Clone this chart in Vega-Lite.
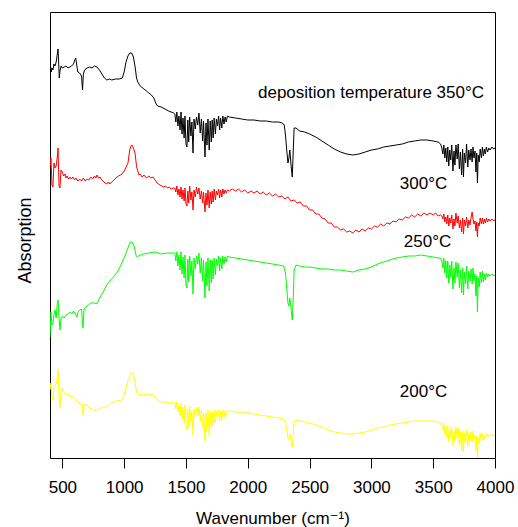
{
  "$schema": "https://vega.github.io/schema/vega-lite/v6.json",
  "width": 445,
  "height": 446,
  "autosize": "none",
  "padding": {"left": 50, "top": 12, "right": 23, "bottom": 69},
  "background": "white",
  "config": {"view": {"stroke": "black", "strokeWidth": 1}, "font": "Liberation Sans, Arial, DejaVu Sans"},
  "datasets": {
    "spectra": [
      {"s":"350","w":400,"a":381},{"s":"350","w":404,"a":392},{"s":"350","w":410,"a":386},{"s":"350","w":416,"a":390},{"s":"350","w":424,"a":388},{"s":"350","w":432,"a":394},{"s":"350","w":440,"a":392},{"s":"350","w":450,"a":396},{"s":"350","w":458,"a":403},{"s":"350","w":465,"a":409},{"s":"350","w":470,"a":396},{"s":"350","w":475,"a":380},{"s":"350","w":482,"a":388},{"s":"350","w":490,"a":392},{"s":"350","w":500,"a":390},{"s":"350","w":515,"a":391},{"s":"350","w":530,"a":392},{"s":"350","w":545,"a":390},{"s":"350","w":560,"a":391},{"s":"350","w":575,"a":392},{"s":"350","w":590,"a":394},{"s":"350","w":600,"a":398},{"s":"350","w":608,"a":400},{"s":"350","w":615,"a":394},{"s":"350","w":625,"a":386},{"s":"350","w":640,"a":385},{"s":"350","w":655,"a":382},{"s":"350","w":663,"a":368},{"s":"350","w":670,"a":384},{"s":"350","w":680,"a":388},{"s":"350","w":700,"a":390},{"s":"350","w":720,"a":391},{"s":"350","w":740,"a":390},{"s":"350","w":760,"a":392},{"s":"350","w":780,"a":391},{"s":"350","w":800,"a":388},{"s":"350","w":820,"a":384},{"s":"350","w":840,"a":380},{"s":"350","w":860,"a":378},{"s":"350","w":880,"a":379},{"s":"350","w":900,"a":378},{"s":"350","w":930,"a":379},{"s":"350","w":960,"a":379},{"s":"350","w":985,"a":380},{"s":"350","w":1000,"a":386},{"s":"350","w":1015,"a":396},{"s":"350","w":1030,"a":402},{"s":"350","w":1045,"a":405},{"s":"350","w":1060,"a":405},{"s":"350","w":1075,"a":401},{"s":"350","w":1090,"a":390},{"s":"350","w":1100,"a":380},{"s":"350","w":1110,"a":376},{"s":"350","w":1130,"a":372},{"s":"350","w":1160,"a":369},{"s":"350","w":1190,"a":366},{"s":"350","w":1220,"a":363},{"s":"350","w":1240,"a":360},{"s":"350","w":1255,"a":355},{"s":"350","w":1270,"a":352},{"s":"350","w":1300,"a":351},{"s":"350","w":1330,"a":349},{"s":"350","w":1360,"a":347},{"s":"350","w":1380,"a":346},{"s":"350","w":1400,"a":345},
      {"s":"350","w":1410,"a":344},{"s":"350","w":1418,"a":336},{"s":"350","w":1426,"a":346},{"s":"350","w":1435,"a":332},{"s":"350","w":1443,"a":342},{"s":"350","w":1452,"a":328},{"s":"350","w":1460,"a":346},{"s":"350","w":1468,"a":324},{"s":"350","w":1476,"a":340},{"s":"350","w":1485,"a":320},{"s":"350","w":1492,"a":342},{"s":"350","w":1500,"a":314},{"s":"350","w":1508,"a":311},{"s":"350","w":1515,"a":338},{"s":"350","w":1522,"a":316},{"s":"350","w":1530,"a":341},{"s":"350","w":1540,"a":322},{"s":"350","w":1548,"a":336},{"s":"350","w":1557,"a":305},{"s":"350","w":1565,"a":339},{"s":"350","w":1575,"a":329},{"s":"350","w":1585,"a":341},{"s":"350","w":1595,"a":333},{"s":"350","w":1605,"a":345},{"s":"350","w":1615,"a":325},{"s":"350","w":1625,"a":339},{"s":"350","w":1635,"a":317},{"s":"350","w":1642,"a":337},{"s":"350","w":1654,"a":301},{"s":"350","w":1662,"a":335},{"s":"350","w":1670,"a":313},{"s":"350","w":1678,"a":339},{"s":"350","w":1688,"a":308},{"s":"350","w":1696,"a":337},{"s":"350","w":1705,"a":316},{"s":"350","w":1712,"a":338},{"s":"350","w":1720,"a":320},{"s":"350","w":1728,"a":340},{"s":"350","w":1738,"a":324},{"s":"350","w":1746,"a":339},{"s":"350","w":1755,"a":332},{"s":"350","w":1764,"a":342},{"s":"350","w":1772,"a":328},{"s":"350","w":1780,"a":340},{"s":"350","w":1790,"a":330},{"s":"350","w":1798,"a":342},{"s":"350","w":1808,"a":334},{"s":"350","w":1816,"a":341},{"s":"350","w":1826,"a":336},{"s":"350","w":1835,"a":342},{"s":"350","w":1850,"a":341},
      {"s":"350","w":1900,"a":340},{"s":"350","w":1950,"a":339},{"s":"350","w":2000,"a":338},{"s":"350","w":2050,"a":338},{"s":"350","w":2100,"a":337},{"s":"350","w":2150,"a":337},{"s":"350","w":2200,"a":336},{"s":"350","w":2250,"a":336},{"s":"350","w":2280,"a":335},{"s":"350","w":2295,"a":333},{"s":"350","w":2305,"a":323},{"s":"350","w":2315,"a":308},{"s":"350","w":2325,"a":295},{"s":"350","w":2333,"a":300},{"s":"350","w":2340,"a":308},{"s":"350","w":2350,"a":293},{"s":"350","w":2360,"a":281},{"s":"350","w":2368,"a":308},{"s":"350","w":2375,"a":330},{"s":"350","w":2390,"a":330},{"s":"350","w":2420,"a":327},{"s":"350","w":2460,"a":326},{"s":"350","w":2500,"a":324},{"s":"350","w":2550,"a":321},{"s":"350","w":2600,"a":317},{"s":"350","w":2650,"a":313},{"s":"350","w":2700,"a":309},{"s":"350","w":2750,"a":306},{"s":"350","w":2800,"a":304},{"s":"350","w":2850,"a":303},{"s":"350","w":2900,"a":304},{"s":"350","w":2950,"a":306},{"s":"350","w":3000,"a":308},{"s":"350","w":3050,"a":309},{"s":"350","w":3100,"a":311},{"s":"350","w":3150,"a":312},{"s":"350","w":3200,"a":313},{"s":"350","w":3250,"a":314},{"s":"350","w":3300,"a":316},{"s":"350","w":3350,"a":317},{"s":"350","w":3400,"a":318},{"s":"350","w":3450,"a":318},{"s":"350","w":3500,"a":317},{"s":"350","w":3540,"a":316},{"s":"350","w":3560,"a":314},
      {"s":"350","w":3570,"a":310},{"s":"350","w":3578,"a":304},{"s":"350","w":3586,"a":313},{"s":"350","w":3594,"a":300},{"s":"350","w":3602,"a":310},{"s":"350","w":3610,"a":296},{"s":"350","w":3618,"a":311},{"s":"350","w":3626,"a":292},{"s":"350","w":3634,"a":308},{"s":"350","w":3642,"a":298},{"s":"350","w":3650,"a":313},{"s":"350","w":3660,"a":287},{"s":"350","w":3668,"a":307},{"s":"350","w":3676,"a":293},{"s":"350","w":3684,"a":313},{"s":"350","w":3694,"a":299},{"s":"350","w":3702,"a":314},{"s":"350","w":3712,"a":289},{"s":"350","w":3720,"a":306},{"s":"350","w":3730,"a":283},{"s":"350","w":3738,"a":309},{"s":"350","w":3745,"a":281},{"s":"350","w":3752,"a":305},{"s":"350","w":3762,"a":295},{"s":"350","w":3770,"a":314},{"s":"350","w":3780,"a":291},{"s":"350","w":3788,"a":308},{"s":"350","w":3798,"a":298},{"s":"350","w":3806,"a":309},{"s":"350","w":3815,"a":296},{"s":"350","w":3822,"a":311},{"s":"350","w":3830,"a":300},{"s":"350","w":3838,"a":307},{"s":"350","w":3846,"a":286},{"s":"350","w":3852,"a":305},{"s":"350","w":3858,"a":275},{"s":"350","w":3864,"a":303},{"s":"350","w":3872,"a":296},{"s":"350","w":3880,"a":309},{"s":"350","w":3890,"a":300},{"s":"350","w":3898,"a":311},{"s":"350","w":3906,"a":302},{"s":"350","w":3914,"a":309},{"s":"350","w":3922,"a":304},{"s":"350","w":3930,"a":311},{"s":"350","w":3940,"a":306},{"s":"350","w":3950,"a":310},{"s":"350","w":3960,"a":308},{"s":"350","w":3975,"a":311},{"s":"350","w":3990,"a":309},{"s":"350","w":4000,"a":310},

      {"s":"300","w":400,"a":291},{"s":"300","w":408,"a":300},{"s":"300","w":416,"a":273},{"s":"300","w":424,"a":271},{"s":"300","w":432,"a":295},{"s":"300","w":440,"a":290},{"s":"300","w":450,"a":292},{"s":"300","w":458,"a":300},{"s":"300","w":465,"a":310},{"s":"300","w":473,"a":272},{"s":"300","w":481,"a":270},{"s":"300","w":489,"a":288},{"s":"300","w":500,"a":286},{"s":"300","w":510,"a":282},{"s":"300","w":521,"a":284},{"s":"300","w":530,"a":280},{"s":"300","w":538,"a":282},{"s":"300","w":550,"a":279},{"s":"300","w":560,"a":281},{"s":"300","w":573,"a":279},{"s":"300","w":586,"a":281},{"s":"300","w":598,"a":278},{"s":"300","w":610,"a":280},{"s":"300","w":625,"a":277},{"s":"300","w":640,"a":279},{"s":"300","w":655,"a":277},{"s":"300","w":670,"a":280},{"s":"300","w":685,"a":277},{"s":"300","w":700,"a":279},{"s":"300","w":715,"a":278},{"s":"300","w":730,"a":281},{"s":"300","w":745,"a":279},{"s":"300","w":760,"a":282},{"s":"300","w":770,"a":280},{"s":"300","w":780,"a":283},{"s":"300","w":792,"a":280},{"s":"300","w":805,"a":281},{"s":"300","w":818,"a":278},{"s":"300","w":830,"a":277},{"s":"300","w":845,"a":275},{"s":"300","w":860,"a":274},{"s":"300","w":872,"a":276},{"s":"300","w":885,"a":274},{"s":"300","w":898,"a":276},{"s":"300","w":910,"a":277},{"s":"300","w":925,"a":279},{"s":"300","w":942,"a":281},{"s":"300","w":955,"a":282},{"s":"300","w":970,"a":283},{"s":"300","w":983,"a":284},{"s":"300","w":1000,"a":287},{"s":"300","w":1020,"a":292},{"s":"300","w":1031,"a":295},{"s":"300","w":1045,"a":308},{"s":"300","w":1055,"a":312},{"s":"300","w":1063,"a":313},{"s":"300","w":1075,"a":310},{"s":"300","w":1088,"a":305},{"s":"300","w":1100,"a":292},{"s":"300","w":1112,"a":286},{"s":"300","w":1120,"a":283},{"s":"300","w":1128,"a":284},{"s":"300","w":1145,"a":281},{"s":"300","w":1160,"a":283},{"s":"300","w":1180,"a":280},{"s":"300","w":1200,"a":282},{"s":"300","w":1215,"a":280},{"s":"300","w":1233,"a":281},{"s":"300","w":1250,"a":278},{"s":"300","w":1266,"a":275},{"s":"300","w":1278,"a":274},{"s":"300","w":1290,"a":273},{"s":"300","w":1305,"a":272},{"s":"300","w":1320,"a":271},{"s":"300","w":1335,"a":272},{"s":"300","w":1350,"a":270},{"s":"300","w":1365,"a":271},{"s":"300","w":1380,"a":269},{"s":"300","w":1400,"a":270},
      {"s":"300","w":1410,"a":270},{"s":"300","w":1418,"a":266},{"s":"300","w":1426,"a":272},{"s":"300","w":1435,"a":263},{"s":"300","w":1443,"a":269},{"s":"300","w":1452,"a":261},{"s":"300","w":1460,"a":271},{"s":"300","w":1468,"a":259},{"s":"300","w":1476,"a":268},{"s":"300","w":1485,"a":257},{"s":"300","w":1492,"a":270},{"s":"300","w":1500,"a":254},{"s":"300","w":1508,"a":252},{"s":"300","w":1515,"a":267},{"s":"300","w":1522,"a":255},{"s":"300","w":1530,"a":272},{"s":"300","w":1540,"a":258},{"s":"300","w":1548,"a":266},{"s":"300","w":1557,"a":248},{"s":"300","w":1565,"a":268},{"s":"300","w":1575,"a":261},{"s":"300","w":1585,"a":271},{"s":"300","w":1595,"a":264},{"s":"300","w":1605,"a":270},{"s":"300","w":1615,"a":259},{"s":"300","w":1625,"a":267},{"s":"300","w":1635,"a":255},{"s":"300","w":1642,"a":266},{"s":"300","w":1654,"a":246},{"s":"300","w":1662,"a":265},{"s":"300","w":1670,"a":253},{"s":"300","w":1678,"a":268},{"s":"300","w":1688,"a":250},{"s":"300","w":1696,"a":266},{"s":"300","w":1705,"a":254},{"s":"300","w":1712,"a":267},{"s":"300","w":1720,"a":256},{"s":"300","w":1728,"a":269},{"s":"300","w":1738,"a":258},{"s":"300","w":1746,"a":267},{"s":"300","w":1755,"a":263},{"s":"300","w":1764,"a":269},{"s":"300","w":1772,"a":260},{"s":"300","w":1780,"a":268},{"s":"300","w":1790,"a":261},{"s":"300","w":1798,"a":269},{"s":"300","w":1808,"a":264},{"s":"300","w":1816,"a":268},{"s":"300","w":1826,"a":265},{"s":"300","w":1835,"a":268},{"s":"300","w":1850,"a":267},
      {"s":"300","w":1875,"a":269},{"s":"300","w":1900,"a":267},{"s":"300","w":1925,"a":269},{"s":"300","w":1950,"a":266},{"s":"300","w":1975,"a":268},{"s":"300","w":2000,"a":265},{"s":"300","w":2025,"a":267},{"s":"300","w":2050,"a":265},{"s":"300","w":2075,"a":267},{"s":"300","w":2100,"a":264},{"s":"300","w":2125,"a":266},{"s":"300","w":2150,"a":263},{"s":"300","w":2175,"a":265},{"s":"300","w":2200,"a":262},{"s":"300","w":2225,"a":264},{"s":"300","w":2250,"a":261},{"s":"300","w":2275,"a":262},{"s":"300","w":2300,"a":259},{"s":"300","w":2325,"a":261},{"s":"300","w":2350,"a":257},{"s":"300","w":2375,"a":258},{"s":"300","w":2400,"a":255},{"s":"300","w":2425,"a":256},{"s":"300","w":2450,"a":252},{"s":"300","w":2475,"a":252},{"s":"300","w":2500,"a":248},{"s":"300","w":2525,"a":248},{"s":"300","w":2550,"a":244},{"s":"300","w":2575,"a":244},{"s":"300","w":2600,"a":240},{"s":"300","w":2625,"a":239},{"s":"300","w":2650,"a":235},{"s":"300","w":2675,"a":235},{"s":"300","w":2700,"a":231},{"s":"300","w":2725,"a":231},{"s":"300","w":2750,"a":228},{"s":"300","w":2775,"a":229},{"s":"300","w":2800,"a":226},{"s":"300","w":2825,"a":227},{"s":"300","w":2850,"a":225},{"s":"300","w":2875,"a":228},{"s":"300","w":2900,"a":226},{"s":"300","w":2925,"a":229},{"s":"300","w":2950,"a":227},{"s":"300","w":2975,"a":230},{"s":"300","w":3000,"a":229},{"s":"300","w":3025,"a":232},{"s":"300","w":3050,"a":231},{"s":"300","w":3075,"a":234},{"s":"300","w":3100,"a":232},{"s":"300","w":3125,"a":235},{"s":"300","w":3150,"a":234},{"s":"300","w":3175,"a":237},{"s":"300","w":3200,"a":236},{"s":"300","w":3225,"a":239},{"s":"300","w":3250,"a":238},{"s":"300","w":3275,"a":241},{"s":"300","w":3300,"a":240},{"s":"300","w":3325,"a":243},{"s":"300","w":3350,"a":241},{"s":"300","w":3375,"a":244},{"s":"300","w":3400,"a":242},{"s":"300","w":3425,"a":245},{"s":"300","w":3450,"a":243},{"s":"300","w":3475,"a":245},{"s":"300","w":3500,"a":243},{"s":"300","w":3520,"a":245},{"s":"300","w":3540,"a":242},{"s":"300","w":3560,"a":243},
      {"s":"300","w":3570,"a":242},{"s":"300","w":3578,"a":239},{"s":"300","w":3586,"a":244},{"s":"300","w":3594,"a":236},{"s":"300","w":3602,"a":241},{"s":"300","w":3610,"a":234},{"s":"300","w":3618,"a":243},{"s":"300","w":3626,"a":232},{"s":"300","w":3634,"a":240},{"s":"300","w":3642,"a":235},{"s":"300","w":3650,"a":243},{"s":"300","w":3660,"a":229},{"s":"300","w":3668,"a":239},{"s":"300","w":3676,"a":232},{"s":"300","w":3684,"a":245},{"s":"300","w":3694,"a":235},{"s":"300","w":3702,"a":242},{"s":"300","w":3712,"a":230},{"s":"300","w":3720,"a":238},{"s":"300","w":3730,"a":226},{"s":"300","w":3738,"a":240},{"s":"300","w":3745,"a":224},{"s":"300","w":3752,"a":238},{"s":"300","w":3762,"a":232},{"s":"300","w":3770,"a":241},{"s":"300","w":3780,"a":230},{"s":"300","w":3788,"a":238},{"s":"300","w":3798,"a":233},{"s":"300","w":3806,"a":240},{"s":"300","w":3815,"a":246},{"s":"300","w":3822,"a":239},{"s":"300","w":3830,"a":234},{"s":"300","w":3838,"a":237},{"s":"300","w":3846,"a":227},{"s":"300","w":3852,"a":236},{"s":"300","w":3858,"a":221},{"s":"300","w":3864,"a":235},{"s":"300","w":3872,"a":232},{"s":"300","w":3880,"a":240},{"s":"300","w":3890,"a":234},{"s":"300","w":3898,"a":240},{"s":"300","w":3906,"a":234},{"s":"300","w":3914,"a":239},{"s":"300","w":3922,"a":235},{"s":"300","w":3930,"a":240},{"s":"300","w":3940,"a":236},{"s":"300","w":3950,"a":239},{"s":"300","w":3960,"a":237},{"s":"300","w":3975,"a":239},{"s":"300","w":3990,"a":237},{"s":"300","w":4000,"a":238},

      {"s":"250","w":400,"a":121},{"s":"250","w":408,"a":146},{"s":"250","w":416,"a":133},{"s":"250","w":424,"a":135},{"s":"250","w":432,"a":143},{"s":"250","w":440,"a":148},{"s":"250","w":450,"a":140},{"s":"250","w":458,"a":153},{"s":"250","w":465,"a":158},{"s":"250","w":473,"a":140},{"s":"250","w":481,"a":128},{"s":"250","w":489,"a":140},{"s":"250","w":500,"a":142},{"s":"250","w":515,"a":140},{"s":"250","w":530,"a":143},{"s":"250","w":545,"a":144},{"s":"250","w":560,"a":146},{"s":"250","w":575,"a":144},{"s":"250","w":590,"a":147},{"s":"250","w":605,"a":144},{"s":"250","w":618,"a":141},{"s":"250","w":627,"a":146},{"s":"250","w":640,"a":148},{"s":"250","w":655,"a":149},{"s":"250","w":667,"a":130},{"s":"250","w":675,"a":149},{"s":"250","w":690,"a":151},{"s":"250","w":710,"a":153},{"s":"250","w":730,"a":155},{"s":"250","w":760,"a":155},{"s":"250","w":780,"a":154},{"s":"250","w":800,"a":160},{"s":"250","w":830,"a":166},{"s":"250","w":860,"a":173},{"s":"250","w":890,"a":178},{"s":"250","w":920,"a":182},{"s":"250","w":950,"a":187},{"s":"250","w":985,"a":196},{"s":"250","w":1010,"a":203},{"s":"250","w":1030,"a":210},{"s":"250","w":1050,"a":216},{"s":"250","w":1065,"a":216},{"s":"250","w":1080,"a":212},{"s":"250","w":1095,"a":203},{"s":"250","w":1105,"a":201},{"s":"250","w":1130,"a":203},{"s":"250","w":1160,"a":204},{"s":"250","w":1200,"a":205},{"s":"250","w":1250,"a":206},{"s":"250","w":1300,"a":204},{"s":"250","w":1350,"a":205},{"s":"250","w":1400,"a":205},
      {"s":"250","w":1410,"a":205},{"s":"250","w":1418,"a":197},{"s":"250","w":1426,"a":206},{"s":"250","w":1435,"a":192},{"s":"250","w":1443,"a":203},{"s":"250","w":1452,"a":188},{"s":"250","w":1460,"a":206},{"s":"250","w":1468,"a":184},{"s":"250","w":1476,"a":201},{"s":"250","w":1485,"a":180},{"s":"250","w":1492,"a":203},{"s":"250","w":1500,"a":173},{"s":"250","w":1508,"a":170},{"s":"250","w":1515,"a":199},{"s":"250","w":1522,"a":176},{"s":"250","w":1530,"a":202},{"s":"250","w":1540,"a":182},{"s":"250","w":1548,"a":197},{"s":"250","w":1557,"a":164},{"s":"250","w":1565,"a":200},{"s":"250","w":1575,"a":189},{"s":"250","w":1585,"a":202},{"s":"250","w":1595,"a":194},{"s":"250","w":1605,"a":205},{"s":"250","w":1615,"a":185},{"s":"250","w":1625,"a":200},{"s":"250","w":1635,"a":177},{"s":"250","w":1642,"a":198},{"s":"250","w":1654,"a":160},{"s":"250","w":1662,"a":196},{"s":"250","w":1670,"a":172},{"s":"250","w":1678,"a":200},{"s":"250","w":1688,"a":167},{"s":"250","w":1696,"a":198},{"s":"250","w":1705,"a":175},{"s":"250","w":1712,"a":198},{"s":"250","w":1720,"a":179},{"s":"250","w":1728,"a":200},{"s":"250","w":1738,"a":183},{"s":"250","w":1746,"a":199},{"s":"250","w":1755,"a":192},{"s":"250","w":1764,"a":202},{"s":"250","w":1772,"a":187},{"s":"250","w":1780,"a":200},{"s":"250","w":1790,"a":189},{"s":"250","w":1798,"a":202},{"s":"250","w":1808,"a":194},{"s":"250","w":1816,"a":201},{"s":"250","w":1826,"a":196},{"s":"250","w":1835,"a":202},{"s":"250","w":1850,"a":201},
      {"s":"250","w":1900,"a":200},{"s":"250","w":1950,"a":199},{"s":"250","w":2000,"a":198},{"s":"250","w":2050,"a":197},{"s":"250","w":2100,"a":196},{"s":"250","w":2150,"a":195},{"s":"250","w":2200,"a":194},{"s":"250","w":2250,"a":193},{"s":"250","w":2290,"a":192},{"s":"250","w":2305,"a":185},{"s":"250","w":2315,"a":170},{"s":"250","w":2325,"a":155},{"s":"250","w":2333,"a":152},{"s":"250","w":2340,"a":160},{"s":"250","w":2350,"a":150},{"s":"250","w":2360,"a":138},{"s":"250","w":2368,"a":160},{"s":"250","w":2375,"a":188},{"s":"250","w":2390,"a":193},{"s":"250","w":2420,"a":192},{"s":"250","w":2460,"a":191},{"s":"250","w":2500,"a":191},{"s":"250","w":2550,"a":190},{"s":"250","w":2600,"a":189},{"s":"250","w":2650,"a":189},{"s":"250","w":2700,"a":188},{"s":"250","w":2750,"a":188},{"s":"250","w":2800,"a":187},{"s":"250","w":2850,"a":186},{"s":"250","w":2900,"a":188},{"s":"250","w":2950,"a":189},{"s":"250","w":3000,"a":191},{"s":"250","w":3050,"a":194},{"s":"250","w":3100,"a":196},{"s":"250","w":3150,"a":198},{"s":"250","w":3200,"a":200},{"s":"250","w":3250,"a":201},{"s":"250","w":3300,"a":202},{"s":"250","w":3350,"a":202},{"s":"250","w":3400,"a":203},{"s":"250","w":3450,"a":202},{"s":"250","w":3500,"a":201},{"s":"250","w":3540,"a":200},{"s":"250","w":3560,"a":200},
      {"s":"250","w":3570,"a":197},{"s":"250","w":3578,"a":190},{"s":"250","w":3586,"a":200},{"s":"250","w":3594,"a":185},{"s":"250","w":3602,"a":197},{"s":"250","w":3610,"a":180},{"s":"250","w":3618,"a":197},{"s":"250","w":3626,"a":175},{"s":"250","w":3634,"a":193},{"s":"250","w":3642,"a":181},{"s":"250","w":3650,"a":197},{"s":"250","w":3660,"a":169},{"s":"250","w":3668,"a":190},{"s":"250","w":3676,"a":175},{"s":"250","w":3684,"a":196},{"s":"250","w":3694,"a":181},{"s":"250","w":3702,"a":195},{"s":"250","w":3712,"a":170},{"s":"250","w":3720,"a":188},{"s":"250","w":3730,"a":165},{"s":"250","w":3738,"a":190},{"s":"250","w":3745,"a":163},{"s":"250","w":3752,"a":186},{"s":"250","w":3762,"a":174},{"s":"250","w":3770,"a":192},{"s":"250","w":3780,"a":169},{"s":"250","w":3788,"a":187},{"s":"250","w":3798,"a":177},{"s":"250","w":3806,"a":189},{"s":"250","w":3815,"a":174},{"s":"250","w":3822,"a":190},{"s":"250","w":3830,"a":177},{"s":"250","w":3838,"a":184},{"s":"250","w":3846,"a":162},{"s":"250","w":3852,"a":182},{"s":"250","w":3858,"a":146},{"s":"250","w":3864,"a":180},{"s":"250","w":3872,"a":171},{"s":"250","w":3880,"a":186},{"s":"250","w":3890,"a":175},{"s":"250","w":3898,"a":187},{"s":"250","w":3906,"a":176},{"s":"250","w":3914,"a":184},{"s":"250","w":3922,"a":178},{"s":"250","w":3930,"a":185},{"s":"250","w":3940,"a":181},{"s":"250","w":3950,"a":184},{"s":"250","w":3960,"a":182},{"s":"250","w":3975,"a":184},{"s":"250","w":3990,"a":182},{"s":"250","w":4000,"a":183},

      {"s":"200","w":400,"a":68},{"s":"200","w":408,"a":75},{"s":"200","w":416,"a":62},{"s":"200","w":424,"a":58},{"s":"200","w":432,"a":71},{"s":"200","w":440,"a":73},{"s":"200","w":450,"a":74},{"s":"200","w":458,"a":80},{"s":"200","w":465,"a":89},{"s":"200","w":473,"a":63},{"s":"200","w":481,"a":50},{"s":"200","w":489,"a":68},{"s":"200","w":500,"a":70},{"s":"200","w":515,"a":65},{"s":"200","w":530,"a":63},{"s":"200","w":545,"a":64},{"s":"200","w":560,"a":62},{"s":"200","w":586,"a":61},{"s":"200","w":600,"a":60},{"s":"200","w":618,"a":56},{"s":"200","w":627,"a":56},{"s":"200","w":643,"a":54},{"s":"200","w":660,"a":54},{"s":"200","w":667,"a":43},{"s":"200","w":675,"a":53},{"s":"200","w":699,"a":53},{"s":"200","w":720,"a":50},{"s":"200","w":750,"a":48},{"s":"200","w":780,"a":48},{"s":"200","w":805,"a":49},{"s":"200","w":830,"a":51},{"s":"200","w":861,"a":51},{"s":"200","w":885,"a":54},{"s":"200","w":910,"a":56},{"s":"200","w":942,"a":57},{"s":"200","w":983,"a":58},{"s":"200","w":1000,"a":63},{"s":"200","w":1015,"a":70},{"s":"200","w":1031,"a":78},{"s":"200","w":1050,"a":83},{"s":"200","w":1063,"a":86},{"s":"200","w":1075,"a":84},{"s":"200","w":1088,"a":76},{"s":"200","w":1100,"a":66},{"s":"200","w":1112,"a":64},{"s":"200","w":1140,"a":63},{"s":"200","w":1180,"a":64},{"s":"200","w":1233,"a":63},{"s":"200","w":1255,"a":60},{"s":"200","w":1274,"a":57},{"s":"200","w":1300,"a":56},{"s":"200","w":1340,"a":56},{"s":"200","w":1380,"a":55},{"s":"200","w":1400,"a":55},
      {"s":"200","w":1410,"a":55},{"s":"200","w":1418,"a":49},{"s":"200","w":1426,"a":56},{"s":"200","w":1435,"a":46},{"s":"200","w":1443,"a":53},{"s":"200","w":1452,"a":42},{"s":"200","w":1460,"a":55},{"s":"200","w":1468,"a":39},{"s":"200","w":1476,"a":51},{"s":"200","w":1485,"a":35},{"s":"200","w":1492,"a":53},{"s":"200","w":1500,"a":31},{"s":"200","w":1508,"a":28},{"s":"200","w":1515,"a":49},{"s":"200","w":1522,"a":31},{"s":"200","w":1530,"a":52},{"s":"200","w":1540,"a":36},{"s":"200","w":1548,"a":46},{"s":"200","w":1557,"a":23},{"s":"200","w":1565,"a":49},{"s":"200","w":1575,"a":41},{"s":"200","w":1585,"a":51},{"s":"200","w":1595,"a":42},{"s":"200","w":1605,"a":51},{"s":"200","w":1615,"a":37},{"s":"200","w":1625,"a":48},{"s":"200","w":1635,"a":31},{"s":"200","w":1642,"a":46},{"s":"200","w":1654,"a":17},{"s":"200","w":1662,"a":45},{"s":"200","w":1670,"a":27},{"s":"200","w":1678,"a":48},{"s":"200","w":1688,"a":23},{"s":"200","w":1696,"a":46},{"s":"200","w":1705,"a":30},{"s":"200","w":1712,"a":46},{"s":"200","w":1720,"a":32},{"s":"200","w":1728,"a":48},{"s":"200","w":1738,"a":35},{"s":"200","w":1746,"a":47},{"s":"200","w":1755,"a":41},{"s":"200","w":1764,"a":48},{"s":"200","w":1772,"a":37},{"s":"200","w":1780,"a":47},{"s":"200","w":1790,"a":38},{"s":"200","w":1798,"a":48},{"s":"200","w":1808,"a":41},{"s":"200","w":1816,"a":47},{"s":"200","w":1826,"a":43},{"s":"200","w":1835,"a":47},{"s":"200","w":1850,"a":47},
      {"s":"200","w":1900,"a":46},{"s":"200","w":1950,"a":46},{"s":"200","w":2000,"a":45},{"s":"200","w":2050,"a":44},{"s":"200","w":2100,"a":43},{"s":"200","w":2150,"a":42},{"s":"200","w":2200,"a":41},{"s":"200","w":2250,"a":40},{"s":"200","w":2290,"a":39},{"s":"200","w":2305,"a":36},{"s":"200","w":2315,"a":28},{"s":"200","w":2325,"a":20},{"s":"200","w":2333,"a":19},{"s":"200","w":2340,"a":24},{"s":"200","w":2350,"a":18},{"s":"200","w":2360,"a":11},{"s":"200","w":2368,"a":22},{"s":"200","w":2375,"a":37},{"s":"200","w":2390,"a":38},{"s":"200","w":2420,"a":37},{"s":"200","w":2460,"a":36},{"s":"200","w":2500,"a":35},{"s":"200","w":2550,"a":33},{"s":"200","w":2600,"a":31},{"s":"200","w":2650,"a":28},{"s":"200","w":2700,"a":26},{"s":"200","w":2750,"a":25},{"s":"200","w":2800,"a":24},{"s":"200","w":2850,"a":24},{"s":"200","w":2900,"a":25},{"s":"200","w":2950,"a":26},{"s":"200","w":3000,"a":28},{"s":"200","w":3050,"a":30},{"s":"200","w":3100,"a":31},{"s":"200","w":3150,"a":33},{"s":"200","w":3200,"a":34},{"s":"200","w":3250,"a":35},{"s":"200","w":3300,"a":36},{"s":"200","w":3350,"a":37},{"s":"200","w":3400,"a":37},{"s":"200","w":3450,"a":37},{"s":"200","w":3500,"a":37},{"s":"200","w":3540,"a":36},{"s":"200","w":3560,"a":35},
      {"s":"200","w":3570,"a":32},{"s":"200","w":3578,"a":28},{"s":"200","w":3586,"a":35},{"s":"200","w":3594,"a":24},{"s":"200","w":3602,"a":32},{"s":"200","w":3610,"a":21},{"s":"200","w":3618,"a":32},{"s":"200","w":3626,"a":17},{"s":"200","w":3634,"a":29},{"s":"200","w":3642,"a":21},{"s":"200","w":3650,"a":31},{"s":"200","w":3660,"a":12},{"s":"200","w":3668,"a":27},{"s":"200","w":3676,"a":17},{"s":"200","w":3684,"a":31},{"s":"200","w":3694,"a":20},{"s":"200","w":3702,"a":30},{"s":"200","w":3712,"a":13},{"s":"200","w":3720,"a":26},{"s":"200","w":3730,"a":7},{"s":"200","w":3738,"a":27},{"s":"200","w":3745,"a":6},{"s":"200","w":3752,"a":25},{"s":"200","w":3762,"a":15},{"s":"200","w":3770,"a":28},{"s":"200","w":3780,"a":12},{"s":"200","w":3788,"a":24},{"s":"200","w":3798,"a":17},{"s":"200","w":3806,"a":26},{"s":"200","w":3815,"a":16},{"s":"200","w":3822,"a":27},{"s":"200","w":3830,"a":18},{"s":"200","w":3838,"a":23},{"s":"200","w":3846,"a":7},{"s":"200","w":3852,"a":22},{"s":"200","w":3858,"a":0},{"s":"200","w":3864,"a":21},{"s":"200","w":3872,"a":14},{"s":"200","w":3880,"a":25},{"s":"200","w":3890,"a":17},{"s":"200","w":3898,"a":25},{"s":"200","w":3906,"a":18},{"s":"200","w":3914,"a":22},{"s":"200","w":3922,"a":19},{"s":"200","w":3930,"a":24},{"s":"200","w":3940,"a":21},{"s":"200","w":3950,"a":23},{"s":"200","w":3960,"a":22},{"s":"200","w":3975,"a":24},{"s":"200","w":3990,"a":22},{"s":"200","w":4000,"a":23}
    ],
    "labels": [
      {"w":2997,"a":360,"t":"deposition temperature 350°C"},
      {"w":3422,"a":269.5,"t":"300°C"},
      {"w":3454,"a":211,"t":"250°C"},
      {"w":3422,"a":61,"t":"200°C"}
    ]
  },
  "layer": [
    {
      "data": {"name": "spectra"},
      "mark": {"type": "line", "strokeWidth": 1, "clip": true},
      "encoding": {
        "x": {
          "field": "w", "type": "quantitative",
          "scale": {"domain": [400, 4000], "nice": false, "zero": false},
          "axis": {
            "title": "Wavenumber (cm⁻¹)",
            "values": [500, 1000, 1500, 2000, 2500, 3000, 3500, 4000],
            "format": "d",
            "grid": false, "domain": false,
            "tickSize": 10, "tickColor": "black", "tickWidth": 1,
            "labelFontSize": 17, "labelColor": "black", "labelPadding": 11, "labelFlush": false,
            "titleFontSize": 17, "titleFontWeight": "normal", "titleColor": "black",
            "titleY": 65, "titleBaseline": "alphabetic"
          }
        },
        "y": {
          "field": "a", "type": "quantitative",
          "scale": {"domain": [0, 446], "nice": false, "zero": false},
          "axis": {
            "title": "Absorption",
            "labels": false, "ticks": false, "domain": false, "grid": false,
            "titleFontSize": 18, "titleFontWeight": "normal", "titleColor": "black",
            "titleX": -20, "titleY": 228, "titleBaseline": "alphabetic", "titleAlign": "center", "titleAngle": -90
          }
        },
        "color": {
          "field": "s", "type": "nominal",
          "scale": {"domain": ["350", "300", "250", "200"], "range": ["#000000", "#ff0000", "#00ff00", "#ffff00"]},
          "legend": null
        }
      }
    },
    {
      "data": {"name": "labels"},
      "mark": {"type": "text", "align": "center", "baseline": "alphabetic", "fontSize": 17, "color": "black"},
      "encoding": {
        "x": {"field": "w", "type": "quantitative"},
        "y": {"field": "a", "type": "quantitative"},
        "text": {"field": "t", "type": "nominal"}
      }
    }
  ]
}
